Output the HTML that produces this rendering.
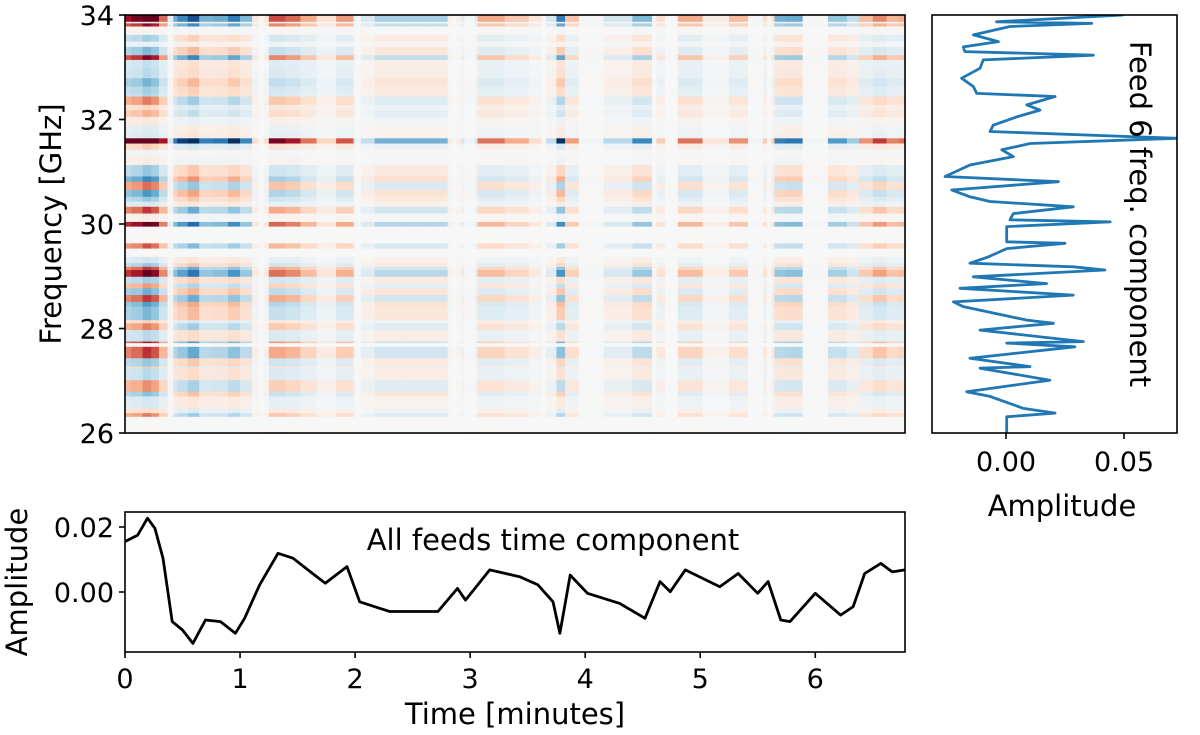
<!DOCTYPE html>
<html><head><meta charset="utf-8">
<style>
body{margin:0;background:#fff;}
svg{display:block;font-family:"DejaVu Sans","Liberation Sans",sans-serif;}
</style></head>
<body>
<svg id="fig" width="1200" height="735" viewBox="0 0 1200 735" xmlns="http://www.w3.org/2000/svg">
<rect width="1200" height="735" fill="#fff"/>
<g id="heat"></g>
<g id="heatAxes"></g>
<g id="freqPanel"></g>
<g id="timePanel"></g>
</svg>
<script>
// ---- data ----
const timeMin = [0,0.11,0.196,0.26,0.33,0.41,0.5,0.59,0.70,0.83,0.96,1.04,1.17,1.33,1.46,1.59,1.74,1.93,2.04,2.30,2.57,2.72,2.89,2.96,3.17,3.43,3.59,3.72,3.78,3.87,4.02,4.30,4.52,4.65,4.74,4.87,5.17,5.33,5.5,5.59,5.70,5.78,6.0,6.22,6.33,6.43,6.57,6.67,6.78];
const timeAmp = [0.0155,0.0175,0.0227,0.0196,0.0104,-0.0091,-0.0117,-0.0158,-0.0086,-0.0091,-0.0127,-0.0081,0.0022,0.0119,0.0104,0.0068,0.0027,0.0078,-0.003,-0.006,-0.006,-0.006,0.0011,-0.0025,0.0068,0.0047,0.0022,-0.003,-0.0127,0.0052,-0.0004,-0.0035,-0.0081,0.0032,0.0001,0.0068,0.0016,0.0057,-0.0004,0.0032,-0.0086,-0.0091,-0.0004,-0.0071,-0.0045,0.0057,0.0088,0.0062,0.0068];
const freqGHz = [34.0,33.87,33.84,33.78,33.62,33.49,33.39,33.30,33.23,33.14,32.98,32.79,32.63,32.50,32.44,32.28,32.18,32.05,31.89,31.77,31.64,31.54,31.42,31.29,31.13,30.91,30.81,30.65,30.52,30.43,30.33,30.20,30.08,30.04,29.95,29.66,29.63,29.53,29.37,29.25,29.18,29.12,28.99,28.86,28.77,28.64,28.51,28.42,28.16,28.10,27.97,27.75,27.72,27.65,27.43,27.27,27.24,27.01,26.79,26.70,26.47,26.38,26.31,26.0];
const freqAmp = [0.0497,-0.0040,0.0363,0.0017,-0.0138,-0.0032,-0.0181,-0.0174,0.0370,-0.0096,-0.0110,-0.0188,-0.0138,-0.0124,0.0208,0.0088,0.0144,0.0045,-0.0054,-0.0068,0.0723,0.0102,-0.0018,0.0031,-0.0153,-0.0258,0.0222,-0.0230,-0.0153,-0.0068,0.0285,0.0031,0.0017,0.0441,0.0003,0.0003,0.0250,0.0003,-0.0075,-0.0153,0.0285,0.0419,-0.0138,0.0172,-0.0195,0.0285,-0.0223,-0.0181,0.0088,0.0201,-0.0110,0.0328,0.0003,0.0292,-0.0153,0.0102,-0.0110,0.0186,-0.0167,-0.0068,0.0074,0.0208,0.0003,0.0003];
const maskedTimes = [[0.37,0.42],[1.16,1.21],[2.0,2.05],[2.84,2.88],[2.95,3.04],[3.62,3.66],[4.58,4.62],[5.58,5.62]];
const freqTicks = [26,28,30,32,34];
const timeTicks = [0,1,2,3,4,5,6];
const ampTicksRight = [0.00,0.05];
const ampTicksBottom = [0.00,0.02];

// ---- scales ----
const HX0=125,HX1=905,HY0=15,HY1=433;
const tMax=6.78;
const xT = t => HX0 + (t/tMax)*(HX1-HX0);
const yF = f => HY1 - (f-26)/8*(HY1-HY0);
const RX0=932,RX1=1177;
const xA = a => 1006 + a*2360;
const BY0=512,BY1=652;
const yB = v => 592 - v*3250;
const NS="http://www.w3.org/2000/svg";
const TICK=27, LAB=29;
function mk(tag,attrs,parent){const e=document.createElementNS(NS,tag);for(const k in attrs)e.setAttribute(k,attrs[k]);parent.appendChild(e);return e;}

const stops=["#053061","#2166ac","#4393c3","#92c5de","#d1e5f0","#f7f7f7","#fddbc7","#f4a582","#d6604d","#b2182b","#67001f"];
function hex(h){return [parseInt(h.substr(1,2),16),parseInt(h.substr(3,2),16),parseInt(h.substr(5,2),16)];}
function cmap(v){let u=Math.max(0,Math.min(1,(v+1)/2))*10;let i=Math.min(9,Math.floor(u));let f=u-i;const a=hex(stops[i]),b=hex(stops[i+1]);return "rgb("+a.map((c,k)=>Math.round(c+(b[k]-c)*f)).join(",")+")";}
const vmax=0.0009;

// ---- heatmap ----
const heat=document.getElementById('heat');
for(let j=0;j<timeMin.length;j++){
  const t0 = j===0?0:(timeMin[j-1]+timeMin[j])/2;
  const t1 = j===timeMin.length-1?tMax:(timeMin[j]+timeMin[j+1])/2;
  for(let i=0;i<freqGHz.length-1;i++){
    const fTop=freqGHz[i], fBot=freqGHz[i+1];
    const val=freqAmp[i]*timeAmp[j]/vmax;
    const r=mk('rect',{x:xT(t0),y:yF(fTop),width:xT(t1)-xT(t0)+0.6,height:yF(fBot)-yF(fTop)+0.6,fill:cmap(val)},heat);
    
    
  }
}
for(const m of maskedTimes){
  const r=mk('rect',{x:xT(m[0]),y:HY0,width:xT(m[1])-xT(m[0]),height:HY1-HY0,fill:"#f7f7f7",opacity:0.85},heat);
  
  
}
const ha=document.getElementById('heatAxes');
mk('rect',{x:HX0,y:HY0,width:HX1-HX0,height:HY1-HY0,fill:"none",stroke:"#000","stroke-width":1.6},ha);
for(const f of freqTicks){
  mk('line',{x1:HX0-6,x2:HX0,y1:yF(f),y2:yF(f),stroke:"#000","stroke-width":1.6},ha);
  const tx=mk('text',{x:HX0-11,y:yF(f)+10,"text-anchor":"end","font-size":TICK},ha);
  tx.textContent=f;
  
  
}
const yl=mk('text',{x:0,y:0,transform:"translate(61,224) rotate(-90)","text-anchor":"middle","font-size":LAB},ha);
yl.textContent="Frequency [GHz]";



// ---- right panel ----
const fp=document.getElementById('freqPanel');
const cp=mk('clipPath',{id:"rc"},fp);mk('rect',{x:RX0,y:HY0,width:RX1-RX0,height:HY1-HY0},cp);
let d="";
for(let i=0;i<freqGHz.length;i++){d+=(i?"L":"M")+xA(freqAmp[i]).toFixed(1)+","+yF(freqGHz[i]).toFixed(1);}
const fl=mk('path',{d:d,fill:"none",stroke:"#1f77b4","stroke-width":2.8,"clip-path":"url(#rc)","stroke-linejoin":"round"},fp);


mk('rect',{x:RX0,y:HY0,width:RX1-RX0,height:HY1-HY0,fill:"none",stroke:"#000","stroke-width":1.6},fp);
for(const a of ampTicksRight){
  mk('line',{x1:xA(a),x2:xA(a),y1:HY1,y2:HY1+6,stroke:"#000","stroke-width":1.6},fp);
  const tx=mk('text',{x:xA(a),y:HY1+38,"text-anchor":"middle","font-size":TICK},fp);
  tx.textContent=a.toFixed(2);
  
  
}
const rl=mk('text',{x:1062,y:516,"text-anchor":"middle","font-size":LAB},fp);
rl.textContent="Amplitude";


const ft=mk('text',{x:0,y:0,transform:"translate(1130,214) rotate(90)","text-anchor":"middle","font-size":LAB},fp);
ft.textContent="Feed 6 freq. component";



// ---- bottom panel ----
const tp=document.getElementById('timePanel');
let d2="";
for(let j=0;j<timeMin.length;j++){d2+=(j?"L":"M")+xT(timeMin[j]).toFixed(1)+","+yB(timeAmp[j]).toFixed(1);}
const tl=mk('path',{d:d2,fill:"none",stroke:"#000","stroke-width":2.8,"stroke-linejoin":"round"},tp);


mk('rect',{x:HX0,y:BY0,width:HX1-HX0,height:BY1-BY0,fill:"none",stroke:"#000","stroke-width":1.6},tp);
for(const v of ampTicksBottom){
  mk('line',{x1:HX0-6,x2:HX0,y1:yB(v),y2:yB(v),stroke:"#000","stroke-width":1.6},tp);
  const tx=mk('text',{x:HX0-11,y:yB(v)+10,"text-anchor":"end","font-size":TICK},tp);
  tx.textContent=v.toFixed(2);
  
  
}
for(const t of timeTicks){
  mk('line',{x1:xT(t),x2:xT(t),y1:BY1,y2:BY1+6,stroke:"#000","stroke-width":1.6},tp);
  const tx=mk('text',{x:xT(t),y:BY1+36,"text-anchor":"middle","font-size":TICK},tp);
  tx.textContent=t;
  
  
}
const bl=mk('text',{x:0,y:0,transform:"translate(27,582) rotate(-90)","text-anchor":"middle","font-size":LAB},tp);
bl.textContent="Amplitude";


const xl=mk('text',{x:515,y:724,"text-anchor":"middle","font-size":LAB},tp);
xl.textContent="Time [minutes]";


const tt=mk('text',{x:553,y:550,"text-anchor":"middle","font-size":LAB},tp);
tt.textContent="All feeds time component";


</script>
</body></html>
